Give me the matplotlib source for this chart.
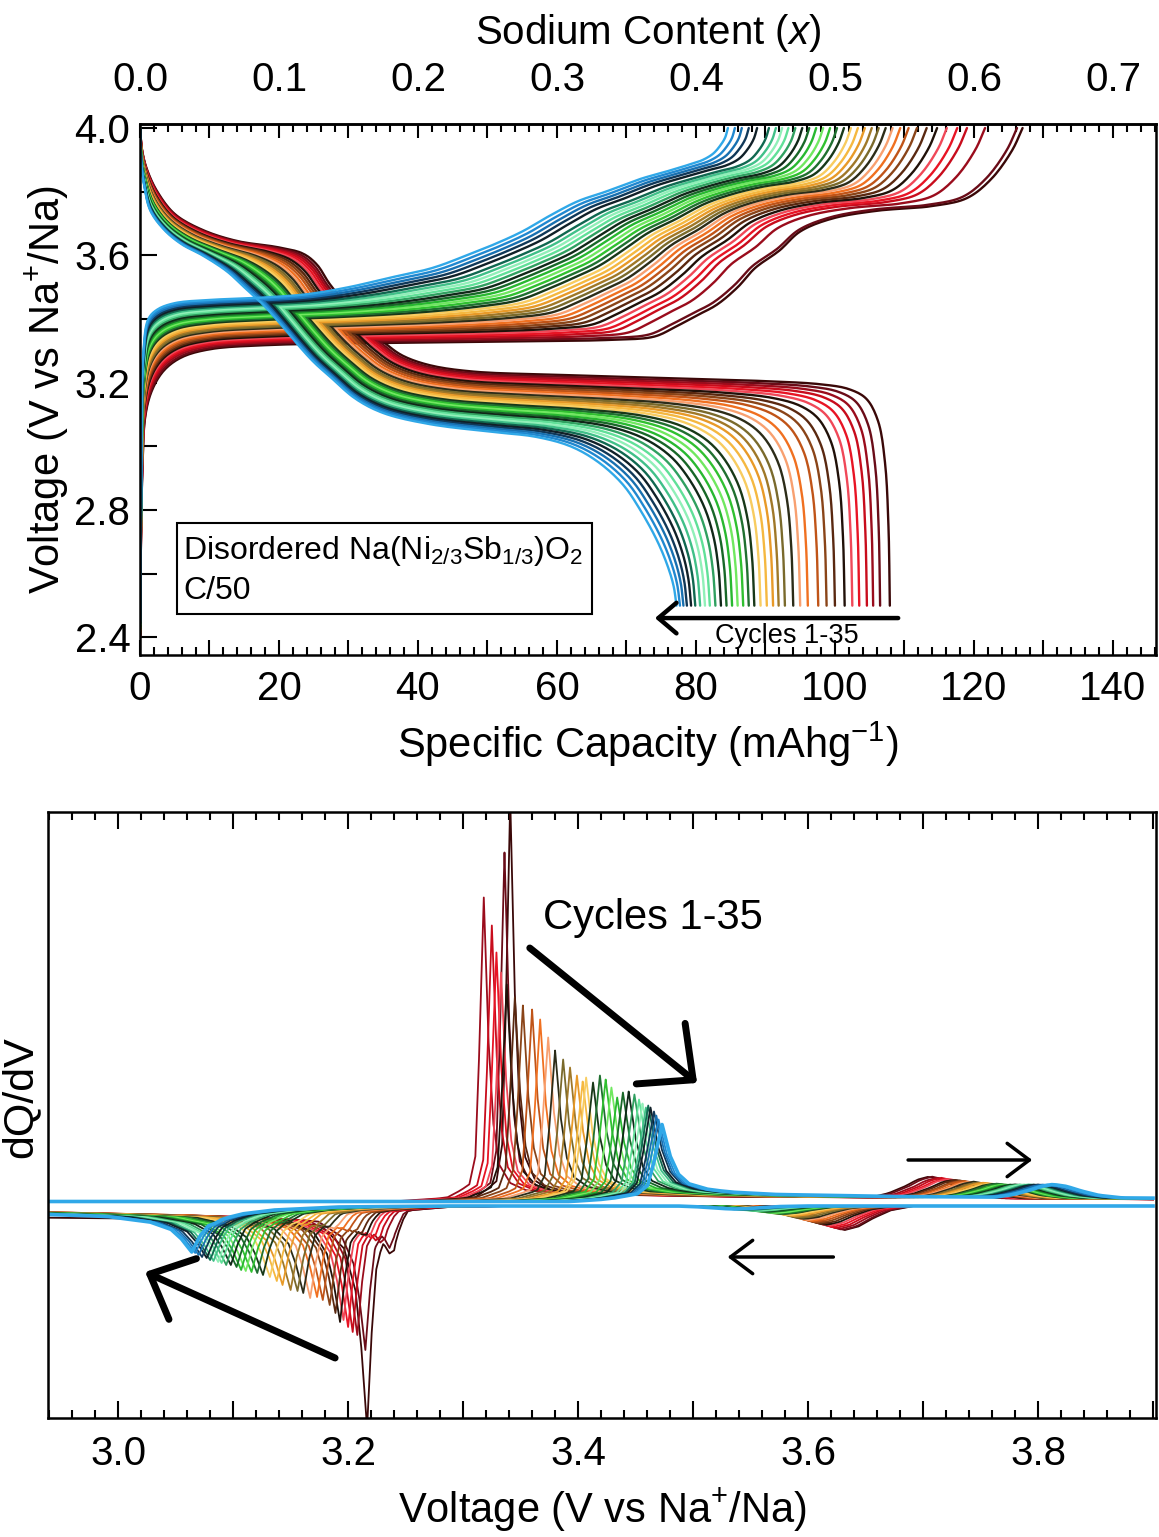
import numpy as np
import matplotlib
matplotlib.use("Agg")
import matplotlib.pyplot as plt
from matplotlib.ticker import MultipleLocator, FuncFormatter
from matplotlib.patches import Rectangle

plt.rcParams['font.family'] = ['Liberation Sans', 'DejaVu Sans']
plt.rcParams['mathtext.fontset'] = 'custom'
plt.rcParams['mathtext.rm'] = 'Liberation Sans'
plt.rcParams['mathtext.it'] = 'Liberation Sans:italic'

# ---------------- data ----------------
cycles = list(range(1, 36))
cycle_colors = [
    "#3a0808", "#6a0c18", "#9a0c1c", "#c80c1c", "#e81424", "#f04858",
    "#201008", "#5a2810", "#8a4418", "#c05418", "#f07020", "#f8a070",
    "#2c2c18", "#7a6a2c", "#a07828", "#e89a28", "#f5b840", "#f8cc60",
    "#183818", "#207030", "#30c030", "#70e860", "#28b830", "#186828",
    "#102818", "#30a060", "#60e098", "#90f0b8", "#40c088", "#106850",
    "#102028", "#103858", "#1870b0", "#2088d0", "#30a8e8"]

# end-of-charge capacity (at 4.0 V) and end-of-discharge capacity (at 2.5 V), mAh/g
charge_end_cap = [127.0, 126.2, 121.6, 119.0, 117.6, 116.1, 114.7, 113.2, 111.8, 110.6,
                  109.4, 108.3, 107.3, 106.3, 105.3, 104.3, 103.3, 102.3, 101.3, 100.3,
                  99.3, 98.3, 97.3, 96.3, 95.3, 94.3, 93.3, 92.4, 91.5, 90.5,
                  88.8, 87.6, 86.6, 85.6, 84.6]
discharge_end_cap = [107.9, 106.5, 105.5, 104.6, 103.5, 102.5, 101.4, 100.0, 98.8, 97.6,
                     96.1, 95.0, 94.0, 92.8, 91.9, 91.1, 90.2, 89.3, 88.4, 87.6,
                     86.8, 86.0, 85.2, 84.4, 83.6, 82.8, 82.0, 81.3, 80.6, 79.9,
                     79.3, 78.7, 78.2, 77.7, 77.2]

# charge profile of cycle 1 and cycle 35 (capacity mAh/g, voltage V)
chg_first_cap = [0, 0.3, 0.8, 1.8, 3.5, 6, 10, 18, 35, 55, 68, 74, 77, 80, 83, 86, 88.5,
                 92, 95, 99.5, 106, 114, 119, 122.5, 125.5, 127.0]
chg_first_V = [2.40, 2.90, 3.10, 3.18, 3.24, 3.28, 3.305, 3.318, 3.325, 3.33, 3.335, 3.345,
               3.375, 3.41, 3.445, 3.50, 3.56, 3.615, 3.675, 3.715, 3.74, 3.755, 3.78, 3.84,
               3.93, 4.0]
chg_last_cap = [0, 0.2, 0.5, 1.2, 2.5, 5, 10, 18, 24, 30, 36, 42, 47, 51, 55, 59, 63, 67,
                72, 76, 79, 81, 82.5, 83.5, 84.2, 84.6]
chg_last_V = [2.45, 3.00, 3.30, 3.40, 3.43, 3.45, 3.46, 3.468, 3.478, 3.50, 3.53, 3.56,
              3.60, 3.635, 3.675, 3.725, 3.77, 3.80, 3.84, 3.865, 3.885, 3.90, 3.92, 3.945,
              3.97, 4.0]
# discharge profile of cycle 1 and cycle 35
dis_first_cap = [0, 0.3, 1, 2.5, 5, 9, 14, 20, 23.5, 25.5, 27.3, 30, 33, 35.5, 37.8, 41.7,
                 48, 60, 75, 90, 98, 102, 104.5, 106.2, 107.2, 107.7, 107.9]
dis_first_V = [4.0, 3.93, 3.87, 3.80, 3.73, 3.68, 3.645, 3.625, 3.605, 3.57, 3.51, 3.44,
               3.37, 3.32, 3.285, 3.255, 3.235, 3.225, 3.215, 3.205, 3.195, 3.18, 3.15,
               3.08, 2.95, 2.75, 2.50]
dis_last_cap = [0, 0.15, 0.6, 1.5, 3.5, 6, 9, 12.5, 15, 17.5, 20, 22.5, 25, 27.3, 31, 35,
                41.7, 51, 57, 62, 66, 69.5, 72, 74.5, 76, 76.8, 77.2]
dis_last_V = [4.0, 3.90, 3.82, 3.74, 3.68, 3.635, 3.60, 3.55, 3.50, 3.45, 3.39, 3.325,
              3.265, 3.22, 3.15, 3.105, 3.07, 3.045, 3.03, 3.00, 2.95, 2.88, 2.80, 2.70,
              2.62, 2.56, 2.50]

# dQ/dV features per cycle (a.u.)
chg_peak_V = [3.341, 3.336, 3.318, 3.325, 3.329, 3.333, 3.338, 3.345, 3.352, 3.360,
              3.367, 3.374, 3.380, 3.387, 3.393, 3.399, 3.404, 3.407, 3.413, 3.419,
              3.424, 3.429, 3.434, 3.439, 3.444, 3.449, 3.453, 3.456, 3.459, 3.461,
              3.463, 3.466, 3.468, 3.470, 3.473]
chg_peak_h = [388, 335, 290, 262, 235, 215, 203, 190, 182, 178, 168, 150, 137, 128, 120,
              112, 106, 110, 105, 112, 108, 100, 90, 95, 96, 93, 88, 84, 80, 82, 80, 76,
              72, 68, 63]
dis_peak_V = [3.2165, 3.215, 3.208, 3.204, 3.200, 3.196, 3.193, 3.189, 3.184, 3.178,
              3.173, 3.167, 3.161, 3.156, 3.150, 3.143, 3.138, 3.132, 3.126, 3.121,
              3.116, 3.111, 3.107, 3.103, 3.098, 3.094, 3.090, 3.087, 3.083, 3.080,
              3.077, 3.073, 3.070, 3.067, 3.064]
dis_peak_h = [-210, -132, -117, -114, -109, -102, -104, -95, -87, -82, -79, -80, -75, -73,
              -72, -67, -63, -59, -57, -55, -54, -53, -52, -49, -47, -47, -45, -44, -43,
              -42, -40, -39, -37, -35, -34]
dis_second_h = [-40, -32, -28, -25, -22, -20, -18, -16, -14, -12, -10, -9, -8, -7, -6, -5,
                -4, -4, -3, -3, -3, -2, -2, -2, -2, -2, -2, -2, -2, -2, -2, -2, -2, -2, -2]
chg_hump_V = [3.705, 3.708, 3.712, 3.716, 3.719, 3.722, 3.726, 3.729, 3.732, 3.735,
              3.738, 3.741, 3.744, 3.747, 3.750, 3.753, 3.756, 3.759, 3.762, 3.765,
              3.768, 3.771, 3.774, 3.777, 3.780, 3.783, 3.786, 3.789, 3.792, 3.795,
              3.798, 3.801, 3.805, 3.809, 3.813]
chg_hump_h = [21, 21, 20, 20, 19, 19, 18, 18, 17, 17, 16, 16, 16, 15, 15, 15, 14, 14, 14,
              14, 13, 13, 13, 13, 13, 13, 13, 13, 13, 13, 13, 13, 13, 13, 13]
dis_hump_V = [3.632, 3.630, 3.627, 3.624, 3.621, 3.618, 3.615, 3.612, 3.609, 3.606,
              3.603, 3.600, 3.597, 3.594, 3.591, 3.588, 3.585, 3.582, 3.579, 3.576,
              3.573, 3.570, 3.567, 3.564, 3.561, 3.558, 3.555, 3.552, 3.549, 3.546,
              3.544, 3.542, 3.540, 3.538, 3.536]
dis_hump_h = [-24, -24, -23, -22, -21, -20, -19, -18, -17, -16, -15, -14, -13, -12, -11,
              -10, -9, -9, -8, -8, -7, -7, -6, -6, -5, -5, -5, -4, -4, -4, -3, -3, -3, -3, -3]

# peak shape templates (offset V, relative height)
chg_peak_dv = [-0.03, -0.012, -0.007, -0.004, 0.0, 0.004, 0.008, 0.013, 0.022, 0.035]
chg_peak_rel = [0.0, 0.03, 0.12, 0.45, 1.0, 0.5, 0.22, 0.08, 0.02, 0.0]
chg_sh_dv = [-0.08, -0.04, -0.02, -0.008, 0.0, 0.02, 0.05, 0.1, 0.2, 0.35, 0.6]
chg_sh_y = [0, 3, 6, 10, 14, 13, 10, 7, 5, 4, 2]
hump_dv = [-0.05, -0.035, -0.02, -0.01, 0.0, 0.012, 0.025, 0.04, 0.06]
hump_rel = [0.0, 0.2, 0.55, 0.85, 1.0, 0.85, 0.5, 0.18, 0.0]
dis_peak_dv = [-0.04, -0.02, -0.01, -0.005, 0.0, 0.004, 0.008, 0.014, 0.025]
dis_peak_rel = [0.05, 0.15, 0.35, 0.62, 1.0, 0.55, 0.25, 0.08, 0.0]
dis_sh_dv = [-0.4, -0.2, -0.1, -0.05, -0.02, 0.0, 0.02, 0.04, 0.07, 0.12, 0.3]
dis_sh_y = [-3, -5, -8, -11, -14, -15, -12, -7, -4, -3, -3]
sec_dv = [-0.012, -0.005, 0.0, 0.005, 0.012]
sec_rel = [0.0, 0.5, 1.0, 0.5, 0.0]


def smooth_path(x, y, sx, sy, n=10):
    """Centripetal Catmull-Rom curve through the given vertices (drawn smoothly)."""
    P = np.column_stack([np.asarray(x) * sx, np.asarray(y) * sy])
    P = np.vstack([2 * P[0] - P[1], P, 2 * P[-1] - P[-2]])
    out = [P[1]]
    for i in range(1, len(P) - 2):
        p0, p1, p2, p3 = P[i - 1], P[i], P[i + 1], P[i + 2]
        t0 = 0.0
        t1 = t0 + max(np.linalg.norm(p1 - p0), 1e-6) ** 0.5
        t2 = t1 + max(np.linalg.norm(p2 - p1), 1e-6) ** 0.5
        t3 = t2 + max(np.linalg.norm(p3 - p2), 1e-6) ** 0.5
        t = np.linspace(t1, t2, n + 1)[1:][:, None]
        A1 = (t1 - t) / (t1 - t0) * p0 + (t - t0) / (t1 - t0) * p1
        A2 = (t2 - t) / (t2 - t1) * p1 + (t - t1) / (t2 - t1) * p2
        A3 = (t3 - t) / (t3 - t2) * p2 + (t - t2) / (t3 - t2) * p3
        B1 = (t2 - t) / (t2 - t0) * A1 + (t - t0) / (t2 - t0) * A2
        B2 = (t3 - t) / (t3 - t1) * A2 + (t - t1) / (t3 - t1) * A3
        C = (t2 - t) / (t2 - t1) * B1 + (t - t1) / (t2 - t1) * B2
        out.extend(C)
    out = np.array(out)
    return out[:, 0] / sx, out[:, 1] / sy


# ---------------- figure ----------------
fig = plt.figure(figsize=(11.59, 15.37), dpi=100)
ax1 = fig.add_axes([140/1159, 1-655/1537, (1156-140)/1159, (655-124)/1537])
ax2 = fig.add_axes([48/1159, 1-1418/1537, (1156-48)/1159, (1418-812)/1537])

SX, SY = 6.95, 318.4   # px per mAh/g, px per V (for even smoothing)
n = len(cycles)
for k in range(n):
    w = k / (n - 1)
    c1, c35 = chg_first_cap[-1], chg_last_cap[-1]
    cap_c = charge_end_cap[k] * ((1-w)*np.array(chg_first_cap)/c1 + w*np.array(chg_last_cap)/c35)
    v_c = (1-w)*np.array(chg_first_V) + w*np.array(chg_last_V)
    d1, d35 = dis_first_cap[-1], dis_last_cap[-1]
    cap_d = discharge_end_cap[k] * ((1-w)*np.array(dis_first_cap)/d1 + w*np.array(dis_last_cap)/d35)
    v_d = (1-w)*np.array(dis_first_V) + w*np.array(dis_last_V)
    xd, yd = smooth_path(cap_d, v_d, SX, SY)
    xc, yc = smooth_path(cap_c, v_c, SX, SY)
    ax1.plot(xd, yd, color=cycle_colors[k], lw=1.7, solid_capstyle='round')
    ax1.plot(xc, yc, color=cycle_colors[k], lw=1.7, solid_capstyle='round')

ax1.set_xlim(0, 146.2)
ax1.set_ylim(2.345, 4.0126)
ax1.xaxis.set_major_locator(MultipleLocator(10))
ax1.xaxis.set_minor_locator(MultipleLocator(2))
ax1.xaxis.set_major_formatter(FuncFormatter(lambda v, p: f"{int(round(v))}" if abs(v/20 - round(v/20)) < 1e-6 else ""))
ax1.yaxis.set_major_locator(MultipleLocator(0.2))
ax1.yaxis.set_major_formatter(FuncFormatter(lambda v, p: f"{v:.1f}" if abs(v/0.4 - round(v/0.4)) < 1e-6 else ""))
ax1.tick_params(axis='x', which='major', direction='in', length=11, width=1.5, labelsize=29, pad=11, top=False)
ax1.tick_params(axis='x', which='minor', direction='in', length=6, width=1.5, top=False)
ax1.tick_params(axis='y', which='major', direction='in', length=12, width=1.5, labelsize=29, pad=7, right=False)
for s in ax1.spines.values():
    s.set_linewidth(1.8)
ax1.set_xlabel("Specific Capacity (mAhg$^{-1}$)", fontsize=30, labelpad=8)
ax1.set_ylabel("Voltage (V vs Na$^{+}$/Na)", fontsize=30, labelpad=2)

sec = ax1.secondary_xaxis('top', functions=(lambda c: c/200.0, lambda x: x*200.0))
sec.xaxis.set_major_locator(MultipleLocator(0.05))
sec.xaxis.set_minor_locator(MultipleLocator(0.01))
sec.xaxis.set_major_formatter(FuncFormatter(lambda v, p: f"{v:.1f}" if abs(v/0.1 - round(v/0.1)) < 1e-6 else ""))
sec.tick_params(which='major', direction='in', length=10, width=1.5, labelsize=29, pad=18)
sec.tick_params(which='minor', direction='in', length=6, width=1.5)
sec.spines['top'].set_linewidth(1.8)
sec.set_xlabel("Sodium Content ($\\it{x}$)", fontsize=29, labelpad=12)

ax1.add_patch(Rectangle((5.3, 2.474), 65.0-5.3, 2.759-2.474, fill=False, lw=1.5, ec='black', zorder=5))
ax1.text(6.2, 2.672, "Disordered Na(Ni$_{2/3}$Sb$_{1/3}$)O$_2$", fontsize=23, va='center', ha='left', zorder=6)
ax1.text(6.2, 2.546, "C/50", fontsize=23, va='center', ha='left', zorder=6)
ax1.annotate("", xy=(74.1, 2.461), xytext=(109.1, 2.461),
             arrowprops=dict(arrowstyle='->,head_length=0.65,head_width=0.55', lw=3.2, color='black',
                             mutation_scale=20, shrinkA=0, shrinkB=0))
ax1.text(93.1, 2.405, "Cycles 1-35", fontsize=19.5, ha='center', va='center')

# ---------------- dQ/dV ----------------
Vg = np.arange(2.940, 3.9001, 0.004)
for k in range(n):
    w = k / (n - 1)
    s = 1.0 + 0.8*w
    V0 = chg_peak_V[k]
    Vc = np.union1d(Vg, V0 + np.array(chg_peak_dv)*s)
    yc = (1.5 + np.interp(Vc - V0, chg_sh_dv, chg_sh_y)
          + chg_peak_h[k]*np.interp(Vc - V0, np.array(chg_peak_dv)*s, chg_peak_rel)
          + chg_hump_h[k]*np.interp(Vc - chg_hump_V[k], hump_dv, hump_rel))
    Vd0 = dis_peak_V[k]
    Vd = np.union1d(Vg, Vd0 + np.array(dis_peak_dv)*s)
    yd = (np.interp(Vd - Vd0, np.array(dis_sh_dv)*s, dis_sh_y)
          + dis_peak_h[k]*np.interp(Vd - Vd0, np.array(dis_peak_dv)*s, dis_peak_rel)
          + dis_second_h[k]*np.interp(Vd - (Vd0 + 0.022), sec_dv, sec_rel)
          + dis_hump_h[k]*np.interp(Vd - dis_hump_V[k], hump_dv, hump_rel))
    lw = 2.6 if k == n-1 else 1.3
    ax2.plot(Vd, yd, color=cycle_colors[k], lw=lw)
    ax2.plot(Vc, yc, color=cycle_colors[k], lw=lw)

ax2.set_xlim(2.939, 3.9026)
ax2.set_ylim(-215, 391)
ax2.xaxis.set_major_locator(MultipleLocator(0.1))
ax2.xaxis.set_minor_locator(MultipleLocator(0.02))
ax2.xaxis.set_major_formatter(FuncFormatter(lambda v, p: f"{v:.1f}" if abs(v/0.2 - round(v/0.2)) < 1e-6 else ""))
ax2.tick_params(axis='x', which='major', direction='in', length=12, width=1.5, labelsize=29,
                pad=12, top=True)
ax2.tick_params(axis='x', which='minor', direction='in', length=6, width=1.5, top=True)
ax2.set_yticks([])
for s_ in ax2.spines.values():
    s_.set_linewidth(1.8)
ax2.set_xlabel("Voltage (V vs Na$^{+}$/Na)", fontsize=30, labelpad=10)
ax2.set_ylabel("dQ/dV", fontsize=31)
ax2.yaxis.set_label_coords(-0.007, 0.53)

ax2.text(3.3696, 285, "Cycles 1-35", fontsize=30, ha='left', va='center')
ax2.annotate("", xy=(3.5035, 120), xytext=(3.358, 255),
             arrowprops=dict(arrowstyle='->,head_length=1.5,head_width=1.4', lw=5, color='black',
                             mutation_scale=20, shrinkA=0, shrinkB=0))
ax2.annotate("", xy=(3.0235, -69), xytext=(3.1887, -155),
             arrowprops=dict(arrowstyle='->,head_length=1.3,head_width=1.2', lw=5, color='black',
                             mutation_scale=20, shrinkA=0, shrinkB=0))
ax2.annotate("", xy=(3.795, 43), xytext=(3.687, 43),
             arrowprops=dict(arrowstyle='->,head_length=0.8,head_width=0.6', lw=2.5, color='black',
                             mutation_scale=20, shrinkA=0, shrinkB=0))
ax2.annotate("", xy=(3.530, -54), xytext=(3.622, -54),
             arrowprops=dict(arrowstyle='->,head_length=0.8,head_width=0.6', lw=2.5, color='black',
                             mutation_scale=20, shrinkA=0, shrinkB=0))

fig.savefig("out.png", dpi=100)
